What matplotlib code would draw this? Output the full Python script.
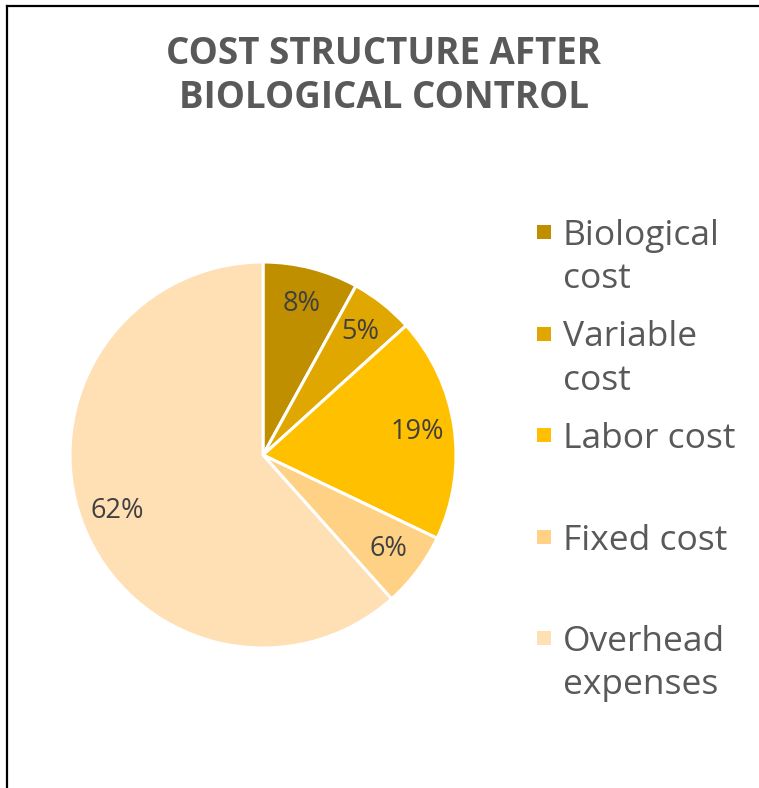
import matplotlib
matplotlib.use("Agg")
import matplotlib.pyplot as plt
from matplotlib.lines import Line2D
from matplotlib.patches import Rectangle

# data
labels = ["Biological\ncost", "Variable\ncost", "Labor cost", "Fixed cost", "Overhead\nexpenses"]
shares = [8.0, 5.3, 18.8, 6.3, 61.6]
colors = ["#BF8F00", "#E0A700", "#FFC000", "#FFD184", "#FFDFB4"]

TITLE = "COST STRUCTURE AFTER\nBIOLOGICAL CONTROL"
FONT = "Open Sans"
GRAY = "#595959"
DARK = "#404040"

W, H = 759, 788
fig = plt.figure(figsize=(W / 100, H / 100), dpi=100)

# pie: centre ~(263, 455) px, radius ~193 px
cx, cy, r = 263, 455, 193
ax = fig.add_axes([(cx - r) / W, (H - cy - r) / H, 2 * r / W, 2 * r / H])
wedges, _, autotexts = ax.pie(shares, colors=colors, startangle=90, counterclock=False,
                              autopct="%.0f%%", pctdistance=0.81,
                              wedgeprops=dict(edgecolor="white", linewidth=2.2),
                              textprops=dict(color=DARK, fontsize=19.5, family=FONT))
ax.set_xlim(-1, 1); ax.set_ylim(-1, 1)
ax.set_aspect("equal")
ax.set_axis_off()

for k, line in enumerate(TITLE.split("\n")):
    fig.text(384 / W, 1 - (50 + 43 * k) / H, line, ha="center", va="center_baseline",
             color=GRAY, fontsize=26.5, fontweight="bold", family=FONT)

# legend: evenly spaced entries, marker aligned with first line
top0, step, lead = 232, 101.5, 43
for i, (lab, c) in enumerate(zip(labels, colors)):
    y = top0 + i * step
    fig.patches.append(Rectangle((537 / W, 1 - (y + 7) / H), 14 / W, 14 / H,
                                 transform=fig.transFigure, facecolor=c, edgecolor="none"))
    for k, line in enumerate(lab.split("\n")):
        fig.text(563 / W, 1 - (y + lead * k) / H, line, ha="left", va="center_baseline",
                 color=GRAY, fontsize=25.5, family=FONT)

# frame: top and left edges only
fig.add_artist(Line2D([6.5 / W, 1], [1 - 5.5 / H, 1 - 5.5 / H], color="black", lw=1.6,
                      transform=fig.transFigure))
fig.add_artist(Line2D([6.5 / W, 6.5 / W], [0, 1 - 5.5 / H], color="black", lw=1.6,
                      transform=fig.transFigure))

fig.savefig("out.png", dpi=100, facecolor="white")
